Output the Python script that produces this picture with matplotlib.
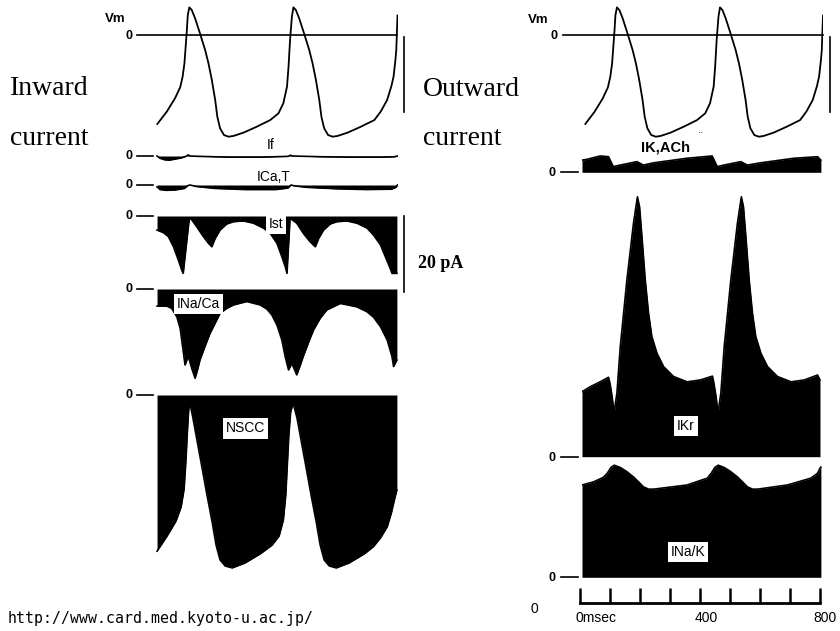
import matplotlib
matplotlib.use("Agg")
import matplotlib.pyplot as plt

W, H = 840, 631

# ---------------- data (time in msec, Vm in mV, currents in pA) ----------------
vm_t = [11, 42, 69, 86, 94, 100, 104, 108, 111, 116, 124, 135, 151, 168, 179, 190, 201, 208, 217, 230, 245,
        261, 294, 338, 382, 409, 425, 437, 442, 447, 453, 458, 466, 477, 493, 510, 521, 532, 543, 550, 559,
        572, 587, 603, 636, 680, 724, 745, 766, 780, 787, 793, 796, 800]
vm_v = [-59.3, -51.1, -42.2, -34.9, -27.8, -18.9, -7.8, 3.3, 13.3, 18.4, 16.7, 11.1, 1.1, -10, -18.9, -30, -43.3,
        -54.4, -62.2, -66.7, -67.8, -67.3, -65.1, -61.1, -56.7, -52.2, -45.5, -34.4, -21.1, -3.3, 12.2, 18.4,
        16.7, 11.1, 1.1, -10, -18.9, -30, -43.3, -54.4, -62.2, -66.7, -67.8, -67.3, -65.1, -61.1, -56.7, -51,
        -43.3, -34, -27.8, -17, -10, 13]

if_t = [10, 20, 35, 50, 70, 90, 108, 112, 118, 150, 250, 350, 440, 448, 455, 550, 650, 750, 790, 800]
if_v = [0, -0.6, -1.0, -1.1, -0.8, -0.5, 0.0, 0.3, 0, -0.1, -0.3, -0.3, -0.1, 0.2, 0, -0.2, -0.3, -0.3, -0.2, 0]

icat_t = [10, 20, 40, 70, 100, 110, 118, 140, 200, 300, 400, 440, 450, 460, 500, 600, 700, 780, 795, 800]
icat_v = [-0.5, -1.2, -1.4, -1.3, -0.9, -0.2, 0, -0.4, -0.9, -1.2, -1.2, -0.8, 0, -0.2, -0.6, -1.0, -1.2, -1.1, -0.6, 0]

ist_t = [10, 31, 47, 64, 80, 91, 96, 116, 124, 140, 162, 179, 190, 201, 217, 239, 261, 294, 327, 360, 382,
         404, 420, 431, 437, 447, 469, 491, 513, 530, 541, 557, 579, 601, 634, 667, 700, 721, 744, 760, 776,
         782, 798]
ist_v = [-3.7, -4.4, -5.4, -8.1, -11.6, -14.2, -15.1, -0.6, -1, -2.8, -5.4, -7.2, -8.1, -5.9, -3.7, -2.1, -1.5,
         -1.3, -1.9, -3.2, -4.6, -7.2, -10.7, -13.3, -15.1, -0.6, -1.9, -4.6, -6.8, -8.1, -5.9, -3.7, -2.1, -1.5,
         -1.3, -1.9, -3.2, -5, -7.6, -10.7, -13.8, -15.1, -15.1]

inaca_t = [10, 42, 58, 75, 86, 94, 102, 108, 113, 124, 135, 143, 151, 168, 184, 201, 217, 239, 261, 305, 349,
           371, 387, 404, 420, 431, 442, 453, 469, 480, 491, 508, 524, 546, 568, 612, 667, 700, 721, 744, 766,
           782, 787, 798]
inaca_v = [-4.5, -4.5, -5.1, -7.3, -10.4, -15.2, -20, -18.7, -17.8, -20.9, -23.5, -21.3, -18.7, -15, -11.7, -9,
           -6.4, -5.1, -4.2, -3.3, -4.2, -5.3, -6.8, -9.5, -13.4, -17.8, -21.3, -19.6, -22.6, -20.2, -17.6, -14,
           -10.8, -7.7, -5.5, -3.8, -4.7, -6, -7.4, -9.9, -13.4, -17.8, -20.4, -18.7]

nscc_t = [10, 43, 72, 89, 99, 105, 110, 114, 118, 128, 141, 158, 174, 191, 204, 217, 234, 257, 299, 349, 388,
          411, 425, 433, 438, 443, 449, 457, 470, 483, 500, 516, 533, 546, 559, 576, 599, 641, 691, 721, 745,
          766, 780, 790, 798]
nscc_v = [-41.1, -37.1, -33.2, -29.5, -24.7, -17.1, -9.2, -3.9, -2.1, -6.1, -11.8, -19.2, -26.3, -33.4, -39.5,
          -43.4, -45, -45.5, -44.2, -41.8, -39.5, -37.1, -32.9, -26.3, -18.4, -10.5, -4.5, -2.1, -6.1, -11.8,
          -19.2, -26.3, -33.4, -39.5, -43.4, -45, -45.5, -44.2, -41.8, -39.9, -37.5, -34.7, -31, -27.5, -25]

ikach_t = [0, 16, 60, 88, 104, 127, 182, 204, 238, 349, 432, 449, 471, 527, 549, 593, 704, 782, 793]
ikach_v = [3.2, 3.4, 4.3, 4.1, 1.5, 1.9, 2.8, 1.9, 2.5, 3.7, 4.3, 1.5, 1.9, 2.8, 1.9, 2.5, 3.7, 4.1, 3.2]

ikr_t = [0, 27, 60, 88, 93, 100, 107, 111, 116, 127, 149, 171, 184, 191, 199, 210, 221, 232, 249, 271, 304,
         349, 393, 433, 438, 445, 452, 456, 461, 472, 494, 516, 529, 536, 544, 555, 566, 577, 594, 616, 649,
         694, 738, 782, 790]
ikr_v = [17.1, 18.4, 19.7, 20.9, 19.3, 15.8, 11.4, 14.1, 16.8, 28.9, 46.5, 61.5, 68.4, 65.8, 57.9, 46.5, 37.7,
         31.6, 27.2, 23.7, 21.1, 19.7, 20.2, 21.2, 19.3, 15.8, 11.4, 14.1, 16.8, 28.9, 46.5, 61.5, 68.4, 65.8,
         57.9, 46.5, 37.7, 31.6, 27.2, 23.7, 21.1, 19.7, 20.2, 21.5, 20.2]

inak_t = [0, 38, 71, 84, 96, 107, 127, 149, 171, 188, 204, 221, 238, 349, 416, 429, 441, 452, 472, 494, 516,
          533, 549, 566, 583, 682, 760, 782, 790, 793]
inak_v = [24.3, 25.1, 26.3, 27.4, 28.9, 29.5, 28.9, 27.8, 26.4, 25.1, 23.8, 23.2, 23.2, 24.3, 26.1, 27.4, 28.9,
          29.5, 28.9, 27.8, 26.4, 25.1, 23.8, 23.2, 23.2, 24.3, 26.1, 27.4, 28.7, 29]

time_ticks = [0, 100, 200, 300, 400, 500, 600, 700, 800]
time_labels = ["0msec", "400", "800"]

# ---------------- figure ----------------
fig = plt.figure(figsize=(W / 100, H / 100), dpi=100)
fig.patch.set_facecolor("white")

SANS = "Liberation Sans"
SERIF = "Liberation Serif"
MONO = "DejaVu Sans Mono"

PX_PA = 3.8   # pixels per pA
PX_MV = 1.5   # pixels per mV

LEFT = (154, 397.5)
RIGHT = (582, 823)


def trace_axes(xr, y_top, y_bot, y_zero, px_per_unit):
    x0, x1 = xr
    ax = fig.add_axes([x0 / W, 1 - y_bot / H, (x1 - x0) / W, (y_bot - y_top) / H])
    ax.set_xlim(0, 800)
    ax.set_ylim((y_zero - y_bot) / px_per_unit, (y_zero - y_top) / px_per_unit)
    ax.axis("off")
    return ax


def current(xr, y_zero, t, v):
    ax = trace_axes(xr, y_zero - 290, y_zero + 200, y_zero, PX_PA)
    ax.fill_between(t, v, 0, color="black", lw=0)
    ax.plot(t, v, color="black", lw=1.2, solid_joinstyle="round")
    return ax


# membrane potentials
for xr in (LEFT, RIGHT):
    ax = trace_axes(xr, 0, 150, 35, PX_MV)
    ax.plot(vm_t, vm_v, color="black", lw=1.3, solid_joinstyle="round")

# inward currents (left)
current(LEFT, 156, if_t, if_v)
current(LEFT, 185, icat_t, icat_v)
current(LEFT, 216, ist_t, ist_v)
current(LEFT, 289, inaca_t, inaca_v)
current(LEFT, 395, nscc_t, nscc_v)

# outward currents (right)
current(RIGHT, 172.3, ikach_t, ikach_v)
current(RIGHT, 456.7, ikr_t, ikr_v)
current(RIGHT, 577.3, inak_t, inak_v)

# time axis
tax = fig.add_axes([580 / W, 1 - 603 / H, 240 / W, 15 / H])
tax.set_xlim(0, 800)
tax.set_ylim(0, 1)
for s in ("top", "left", "right"):
    tax.spines[s].set_visible(False)
tax.spines["bottom"].set_linewidth(2)
tax.set_yticks([])
tax.set_xticks(time_ticks)
tax.set_xticklabels([])
tax.tick_params(axis="x", direction="in", length=11, width=1.8)
tax.patch.set_alpha(0)

# ---------------- overlay (annotations) ----------------
ov = fig.add_axes([0, 0, 1, 1], zorder=10)
ov.set_xlim(0, W)
ov.set_ylim(H, 0)
ov.axis("off")
ov.patch.set_alpha(0)

# Vm zero lines, scale bars, labels
ov.plot([136.7, 396.7], [35, 35], color="black", lw=1.2)
ov.plot([563, 823], [35, 35], color="black", lw=1.2)
ov.plot([403.5, 403.5], [37, 112], color="black", lw=1.2)
ov.plot([830, 830], [37, 112], color="black", lw=1.2)
ov.plot([403.5, 403.5], [216, 292], color="black", lw=1.2)
for x, y in [(115, 19), (538, 20)]:
    ov.text(x, y, "Vm", family=SANS, fontsize=9.5, weight="bold", ha="center", va="center")
for x, y in [(129, 36), (554, 36)]:
    ov.text(x, y, "0", family=SANS, fontsize=9, weight="bold", ha="center", va="center")

# zero markers for currents
for y in [156, 185, 216, 289, 395]:
    ov.text(129, y, "0", family=SANS, fontsize=9, weight="bold", ha="center", va="center")
    ov.plot([137, 153], [y, y], color="black", lw=1.2)
for y in [172.3, 456.7, 577.3]:
    ov.text(552, y + 1, "0", family=SANS, fontsize=9, weight="bold", ha="center", va="center")
    ov.plot([561, 578], [y, y], color="black", lw=1.2)

# big labels
ov.text(10, 95, "Inward", family=SERIF, fontsize=20, va="baseline", ha="left")
ov.text(10, 145, "current", family=SERIF, fontsize=20, va="baseline", ha="left")
ov.text(423, 96, "Outward", family=SERIF, fontsize=20, va="baseline", ha="left")
ov.text(423, 145, "current", family=SERIF, fontsize=20, va="baseline", ha="left")
ov.text(418, 268, "20 pA", family=SERIF, fontsize=13, weight="bold", va="baseline", ha="left")

# current names
ov.text(271, 145, "If", family=SANS, fontsize=10, ha="center", va="center")
ov.text(274, 177, "ICa,T", family=SANS, fontsize=10, ha="center", va="center")
ov.text(666, 148, "IK,ACh", family=SANS, fontsize=10.5, weight="bold", ha="center", va="center")
ov.text(701, 137, "¨", family=SANS, fontsize=8, ha="center", va="center")
box = dict(boxstyle="square,pad=0.22", fc="white", ec="none")
for x, y, s in [(276, 224, "Ist"), (198.5, 304, "INa/Ca"), (245.5, 428.5, "NSCC"),
                (686, 426, "IKr"), (688, 552, "INa/K")]:
    ov.text(x, y, s, family=SANS, fontsize=10, ha="center", va="center", bbox=box)

# time axis labels
ov.text(575, 618, time_labels[0], family=SANS, fontsize=10, ha="left", va="center")
ov.text(695, 618, time_labels[1], family=SANS, fontsize=10, ha="left", va="center")
ov.text(813, 618, time_labels[2], family=SANS, fontsize=10, ha="left", va="center")
ov.text(534, 609, "0", family=SANS, fontsize=10, ha="center", va="center")

# url
ov.text(8, 623, "http://www.card.med.kyoto-u.ac.jp/", family=MONO, fontsize=10.7,
        ha="left", va="baseline")

fig.savefig("out.png", dpi=100, facecolor="white")
